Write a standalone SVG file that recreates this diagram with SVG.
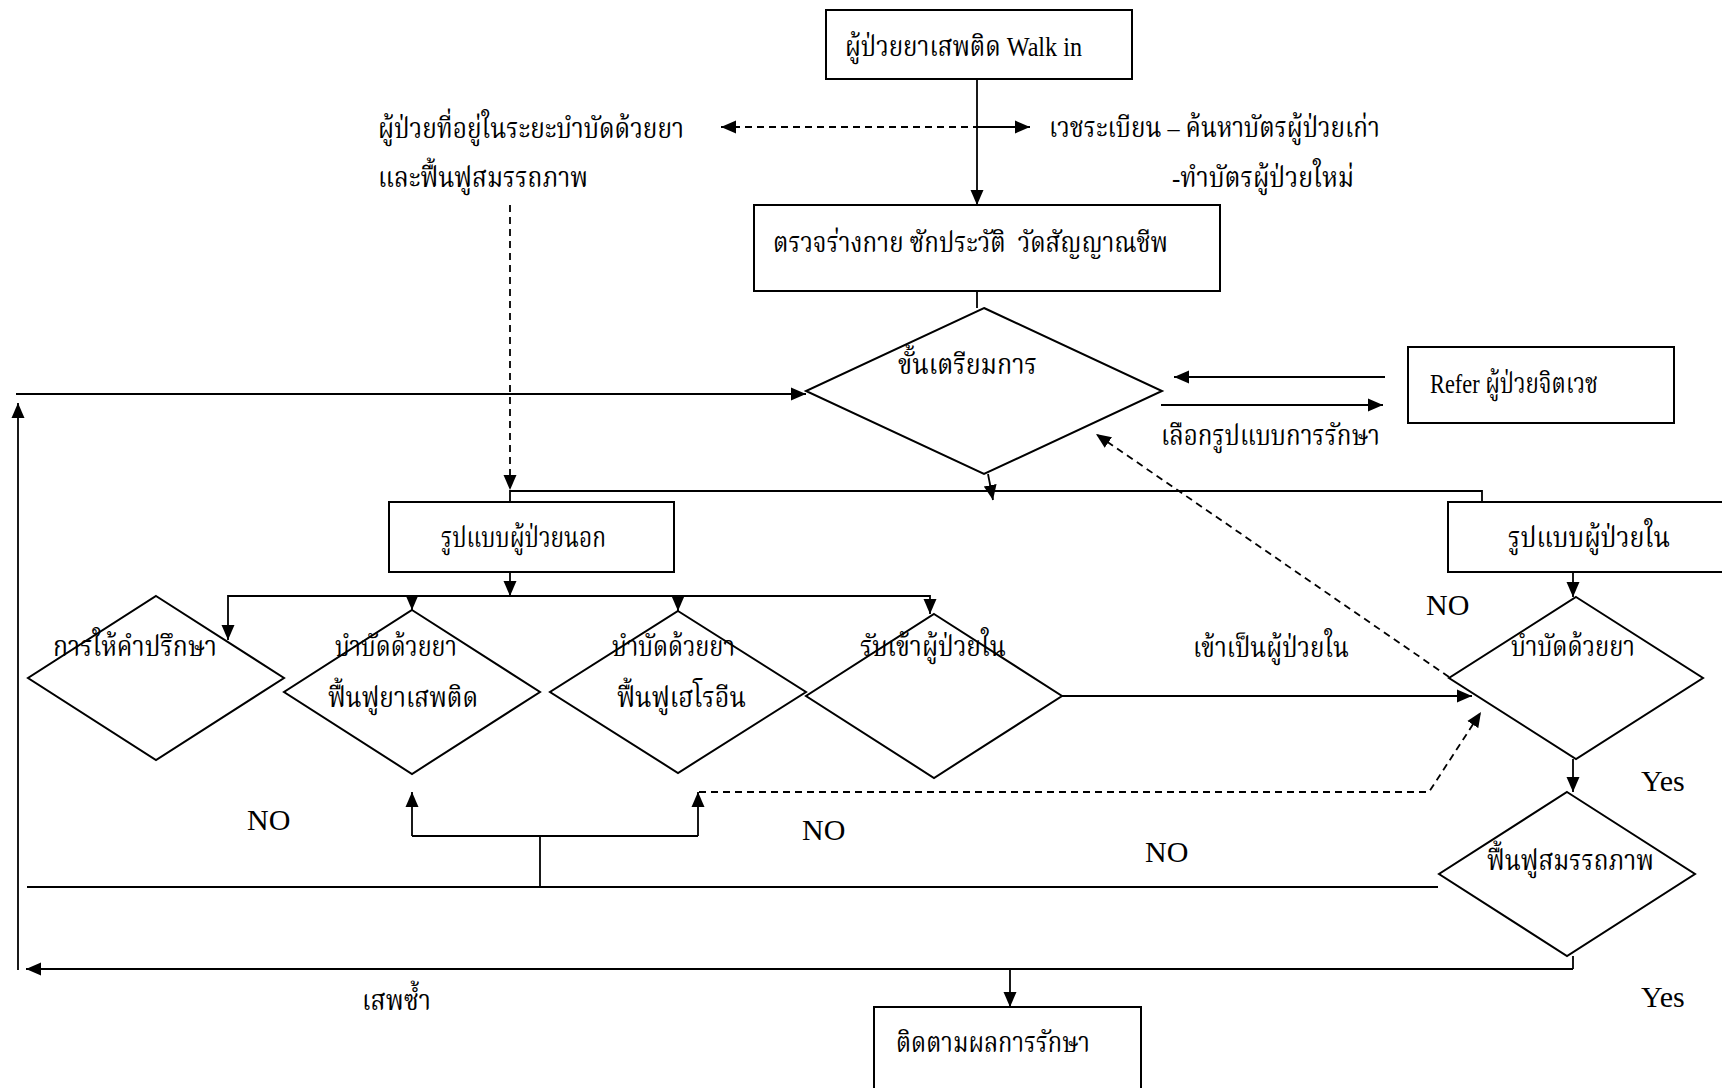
<svg xmlns="http://www.w3.org/2000/svg" width="1722" height="1088" viewBox="0 0 1722 1088">
<style>
.box{fill:#fff;stroke:#000;stroke-width:2}
.ln{fill:none;stroke:#000;stroke-width:1.8}
.dash{stroke-dasharray:7 5}
.t{font-family:"Liberation Serif","Noto Serif Thai","Noto Sans Thai","Loma","Garuda","Norasi","DejaVu Serif",serif;font-size:28px;fill:#000}
.lat{font-family:"Liberation Serif","Times New Roman",serif;font-size:30px;fill:#000}
</style>
<defs>
<marker id="ah" markerUnits="userSpaceOnUse" markerWidth="16" markerHeight="14" refX="15" refY="6.5" orient="auto-start-reverse" viewBox="0 0 16 13">
<path d="M0,0 L15,6.5 L0,13 Z" fill="#000" stroke="none"/>
</marker>
</defs>
<rect width="1722" height="1088" fill="#fff"/>

<g id="connectors">
<line class="ln" x1="977" y1="79" x2="977" y2="205" marker-end="url(#ah)"/>
<line class="ln dash" x1="721" y1="127" x2="977" y2="127" marker-start="url(#ah)"/>
<line class="ln" x1="977" y1="127" x2="1030" y2="127" marker-end="url(#ah)"/>
<line class="ln" x1="977" y1="291" x2="977" y2="308"/>
<line class="ln" x1="16" y1="394" x2="806" y2="394" marker-end="url(#ah)"/>
<line class="ln" x1="18" y1="970" x2="18" y2="403" marker-end="url(#ah)"/>
<line class="ln" x1="1385" y1="377" x2="1174" y2="377" marker-end="url(#ah)"/>
<line class="ln" x1="1161" y1="405" x2="1383" y2="405" marker-end="url(#ah)"/>
<line class="ln" x1="988" y1="474" x2="993" y2="500" marker-end="url(#ah)"/>
<line class="ln dash" x1="510" y1="205" x2="510" y2="490" marker-end="url(#ah)"/>
<polyline class="ln" points="510,502 510,491 1482,491 1482,502"/>
<line class="ln" x1="510" y1="572" x2="510" y2="596" marker-end="url(#ah)"/>
<line class="ln" x1="228" y1="596" x2="930" y2="596"/>
<line class="ln" x1="228" y1="595" x2="228" y2="640" marker-end="url(#ah)"/>
<line class="ln" x1="930" y1="595" x2="930" y2="614" marker-end="url(#ah)"/>
<line class="ln" x1="412" y1="596" x2="412" y2="610" marker-end="url(#ah)"/>
<line class="ln" x1="678" y1="596" x2="678" y2="611" marker-end="url(#ah)"/>
<line class="ln" x1="1062" y1="696" x2="1472" y2="696" marker-end="url(#ah)"/>
<line class="ln" x1="1573" y1="572" x2="1573" y2="597" marker-end="url(#ah)"/>
<line class="ln dash" x1="1449" y1="677" x2="1096" y2="434" marker-end="url(#ah)"/>
<polyline class="ln dash" points="699,792 1429,792 1481,712" marker-end="url(#ah)"/>
<line class="ln" x1="1573" y1="759" x2="1573" y2="792" marker-end="url(#ah)"/>
<line class="ln" x1="412" y1="836" x2="412" y2="792" marker-end="url(#ah)"/>
<line class="ln" x1="698" y1="836" x2="698" y2="792" marker-end="url(#ah)"/>
<line class="ln" x1="412" y1="836" x2="698" y2="836"/>
<line class="ln" x1="540" y1="836" x2="540" y2="887"/>
<line class="ln" x1="27" y1="887" x2="1438" y2="887"/>
<line class="ln" x1="1573" y1="956" x2="1573" y2="969"/>
<line class="ln" x1="1573" y1="969" x2="26" y2="969" marker-end="url(#ah)"/>
<line class="ln" x1="1010" y1="969" x2="1010" y2="1007" marker-end="url(#ah)"/>
</g>

<g id="n_walkin">
<rect class="box" x="826" y="10" width="306" height="69"/>
<text class="t" x="845" y="56" textLength="237" lengthAdjust="spacingAndGlyphs">ผู้ป่วยยาเสพติด Walk in</text>
</g>
<g id="n_returning">
<text class="t" x="378" y="138" textLength="306" lengthAdjust="spacingAndGlyphs">ผู้ป่วยที่อยู่ในระยะบำบัดด้วยยา</text>
<text class="t" x="378" y="187" textLength="210" lengthAdjust="spacingAndGlyphs">และฟื้นฟูสมรรถภาพ</text>
</g>
<g id="n_register">
<text class="t" x="1049" y="137" textLength="331" lengthAdjust="spacingAndGlyphs">เวชระเบียน – ค้นหาบัตรผู้ป่วยเก่า</text>
<text class="t" x="1172" y="187" textLength="182" lengthAdjust="spacingAndGlyphs">-ทำบัตรผู้ป่วยใหม่</text>
</g>
<g id="n_exam">
<rect class="box" x="754" y="205" width="466" height="86"/>
<text class="t" x="773" y="252" textLength="395" lengthAdjust="spacingAndGlyphs" xml:space="preserve">ตรวจร่างกาย ซักประวัติ  วัดสัญญาณชีพ</text>
</g>
<g id="n_prep">
<polygon class="box" points="984,308 1162,391 984,474 806,391"/>
<text class="t" x="898" y="374" textLength="139" lengthAdjust="spacingAndGlyphs">ขั้นเตรียมการ</text>
</g>
<g id="n_refer">
<rect class="box" x="1408" y="347" width="266" height="76"/>
<text class="t" x="1430" y="393" textLength="168" lengthAdjust="spacingAndGlyphs">Refer ผู้ป่วยจิตเวช</text>
</g>
<g id="l_choose">
<text class="t" x="1161" y="445" textLength="219" lengthAdjust="spacingAndGlyphs">เลือกรูปแบบการรักษา</text>
</g>
<g id="n_opd">
<rect class="box" x="389" y="502" width="285" height="70"/>
<text class="t" x="441" y="547" textLength="165" lengthAdjust="spacingAndGlyphs">รูปแบบผู้ป่วยนอก</text>
</g>
<g id="n_ipd">
<rect class="box" x="1448" y="502" width="290" height="70"/>
<text class="t" x="1508" y="547" textLength="162" lengthAdjust="spacingAndGlyphs">รูปแบบผู้ป่วยใน</text>
</g>
<g id="n_counsel">
<polygon class="box" points="156,596 284,678 156,760 28,678"/>
<text class="t" x="53" y="656" textLength="164" lengthAdjust="spacingAndGlyphs">การให้คำปรึกษา</text>
</g>
<g id="n_drug_rehab">
<polygon class="box" points="412,610 540,692 412,774 284,692"/>
<text class="t" x="335" y="656" textLength="122" lengthAdjust="spacingAndGlyphs">บำบัดด้วยยา</text>
<text class="t" x="328" y="707" textLength="150" lengthAdjust="spacingAndGlyphs">ฟื้นฟูยาเสพติด</text>
</g>
<g id="n_heroin">
<polygon class="box" points="678,611 806,692 678,773 550,692"/>
<text class="t" x="612" y="656" textLength="123" lengthAdjust="spacingAndGlyphs">บำบัดด้วยยา</text>
<text class="t" x="617" y="707" textLength="129" lengthAdjust="spacingAndGlyphs">ฟื้นฟูเฮโรอีน</text>
</g>
<g id="n_admit">
<polygon class="box" points="934,614 1062,696 934,778 806,696"/>
<text class="t" x="860" y="656" textLength="146" lengthAdjust="spacingAndGlyphs">รับเข้าผู้ป่วยใน</text>
</g>
<g id="n_ipd_drug">
<polygon class="box" points="1576,597 1703,678 1576,759 1449,678"/>
<text class="t" x="1511" y="656" textLength="124" lengthAdjust="spacingAndGlyphs">บำบัดด้วยยา</text>
</g>
<g id="n_ipd_rehab">
<polygon class="box" points="1567,792 1695,874 1567,956 1439,874"/>
<text class="t" x="1487" y="870" textLength="167" lengthAdjust="spacingAndGlyphs">ฟื้นฟูสมรรถภาพ</text>
</g>
<g id="n_follow">
<rect class="box" x="874" y="1007" width="267" height="95"/>
<text class="t" x="896" y="1052" textLength="194" lengthAdjust="spacingAndGlyphs">ติดตามผลการรักษา</text>
</g>
<g id="labels">
<text class="t" x="1193" y="657" textLength="156" lengthAdjust="spacingAndGlyphs">เข้าเป็นผู้ป่วยใน</text>
<text class="t" x="362" y="1010" textLength="69" lengthAdjust="spacingAndGlyphs">เสพซ้ำ</text>
<text class="lat" x="1426" y="615">NO</text>
<text class="lat" x="1641" y="791">Yes</text>
<text class="lat" x="247" y="830">NO</text>
<text class="lat" x="802" y="840">NO</text>
<text class="lat" x="1145" y="862">NO</text>
<text class="lat" x="1641" y="1007">Yes</text>
</g>
</svg>
